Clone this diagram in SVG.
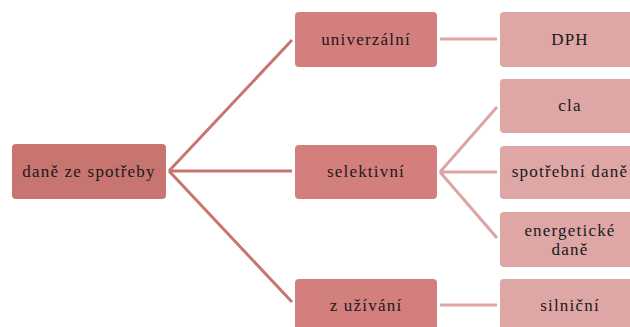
<svg xmlns="http://www.w3.org/2000/svg" width="630" height="327" viewBox="0 0 630 327">
<style>
.n1{fill:#c87470}
.n2{fill:#d37f7e}
.n3{fill:#dea6a5}
text{font-size:17px;letter-spacing:1.2px;fill:#1a1a1a;text-anchor:middle}
.c1{stroke:#c87470;stroke-width:3;fill:none}
.c2{stroke:#dda4a3;stroke-width:3;fill:none}
</style>
<rect width="630" height="327" fill="#ffffff"/>
<g id="connectors">
<path class="c1" d="M169 171 L292 40 M169 171 L292 171 M169 171 L292 302"/>
<path class="c2" d="M440 39 L497 39"/>
<path class="c2" d="M440 172 L497 107 M440 172 L497 172 M440 172 L497 238"/>
<path class="c2" d="M440 305 L497 305"/>
</g>
<g font-family="'Liberation Serif', 'Times New Roman', serif">
<g id="root"><rect class="n1" x="12" y="144" width="154" height="55" rx="4"/><text x="89" y="177">daně ze spotřeby</text></g>
<g id="univerzalni"><rect class="n2" x="295" y="12" width="142" height="55" rx="4"/><text x="366" y="45">univerzální</text></g>
<g id="selektivni"><rect class="n2" x="295" y="145" width="142" height="54" rx="4"/><text x="366" y="177">selektivní</text></g>
<g id="zuzivani"><rect class="n2" x="295" y="279" width="142" height="55" rx="4"/><text x="366" y="311">z užívání</text></g>
<g id="dph"><rect class="n3" x="500" y="12" width="155" height="55" rx="4"/><text x="570" y="45">DPH</text></g>
<g id="cla"><rect class="n3" x="500" y="79" width="155" height="54" rx="4"/><text x="570" y="111">cla</text></g>
<g id="spotrebni"><rect class="n3" x="500" y="146" width="155" height="53" rx="4"/><text x="570" y="177">spotřební daně</text></g>
<g id="energeticke"><rect class="n3" x="500" y="212" width="155" height="55" rx="4"/><text x="570" y="236">energetické</text><text x="570" y="255">daně</text></g>
<g id="silnicni"><rect class="n3" x="500" y="279" width="155" height="55" rx="4"/><text x="570" y="311">silniční</text></g>
</g>
</svg>
